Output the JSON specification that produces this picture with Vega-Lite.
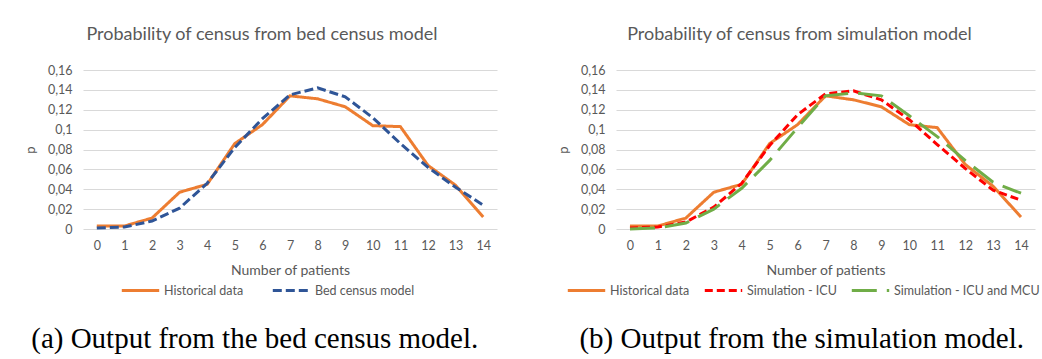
{
  "$schema": "https://vega.github.io/schema/vega-lite/v6.json",
  "padding": {"left": 24, "top": 26, "right": 0, "bottom": 0},
  "background": "white",
  "spacing": 60,
  "resolve": {"scale": {"color": "independent", "strokeDash": "independent", "x": "independent", "y": "independent"}, "legend": {"color": "independent", "strokeDash": "independent"}},
  "datasets": {
    "a": [
      {"series": "Historical data", "n": 0, "p": 0.003},
      {"series": "Historical data", "n": 1, "p": 0.003},
      {"series": "Historical data", "n": 2, "p": 0.011},
      {"series": "Historical data", "n": 3, "p": 0.037},
      {"series": "Historical data", "n": 4, "p": 0.045},
      {"series": "Historical data", "n": 5, "p": 0.086},
      {"series": "Historical data", "n": 6, "p": 0.105},
      {"series": "Historical data", "n": 7, "p": 0.134},
      {"series": "Historical data", "n": 8, "p": 0.131},
      {"series": "Historical data", "n": 9, "p": 0.123},
      {"series": "Historical data", "n": 10, "p": 0.104},
      {"series": "Historical data", "n": 11, "p": 0.103},
      {"series": "Historical data", "n": 12, "p": 0.064},
      {"series": "Historical data", "n": 13, "p": 0.044},
      {"series": "Historical data", "n": 14, "p": 0.012},
      {"series": "Bed census model", "n": 0, "p": 0.001},
      {"series": "Bed census model", "n": 1, "p": 0.002},
      {"series": "Bed census model", "n": 2, "p": 0.008},
      {"series": "Bed census model", "n": 3, "p": 0.021},
      {"series": "Bed census model", "n": 4, "p": 0.046},
      {"series": "Bed census model", "n": 5, "p": 0.082},
      {"series": "Bed census model", "n": 6, "p": 0.111},
      {"series": "Bed census model", "n": 7, "p": 0.135},
      {"series": "Bed census model", "n": 8, "p": 0.142},
      {"series": "Bed census model", "n": 9, "p": 0.133},
      {"series": "Bed census model", "n": 10, "p": 0.112},
      {"series": "Bed census model", "n": 11, "p": 0.086},
      {"series": "Bed census model", "n": 12, "p": 0.062},
      {"series": "Bed census model", "n": 13, "p": 0.042},
      {"series": "Bed census model", "n": 14, "p": 0.024}
    ],
    "b": [
      {"series": "Historical data", "n": 0, "p": 0.003},
      {"series": "Historical data", "n": 1, "p": 0.003},
      {"series": "Historical data", "n": 2, "p": 0.011},
      {"series": "Historical data", "n": 3, "p": 0.037},
      {"series": "Historical data", "n": 4, "p": 0.045},
      {"series": "Historical data", "n": 5, "p": 0.086},
      {"series": "Historical data", "n": 6, "p": 0.105},
      {"series": "Historical data", "n": 7, "p": 0.134},
      {"series": "Historical data", "n": 8, "p": 0.130},
      {"series": "Historical data", "n": 9, "p": 0.123},
      {"series": "Historical data", "n": 10, "p": 0.105},
      {"series": "Historical data", "n": 11, "p": 0.102},
      {"series": "Historical data", "n": 12, "p": 0.065},
      {"series": "Historical data", "n": 13, "p": 0.043},
      {"series": "Historical data", "n": 14, "p": 0.012},
      {"series": "Simulation - ICU", "n": 0, "p": 0.001},
      {"series": "Simulation - ICU", "n": 1, "p": 0.002},
      {"series": "Simulation - ICU", "n": 2, "p": 0.007},
      {"series": "Simulation - ICU", "n": 3, "p": 0.022},
      {"series": "Simulation - ICU", "n": 4, "p": 0.046},
      {"series": "Simulation - ICU", "n": 5, "p": 0.084},
      {"series": "Simulation - ICU", "n": 6, "p": 0.115},
      {"series": "Simulation - ICU", "n": 7, "p": 0.136},
      {"series": "Simulation - ICU", "n": 8, "p": 0.139},
      {"series": "Simulation - ICU", "n": 9, "p": 0.130},
      {"series": "Simulation - ICU", "n": 10, "p": 0.110},
      {"series": "Simulation - ICU", "n": 11, "p": 0.085},
      {"series": "Simulation - ICU", "n": 12, "p": 0.061},
      {"series": "Simulation - ICU", "n": 13, "p": 0.039},
      {"series": "Simulation - ICU", "n": 14, "p": 0.029},
      {"series": "Simulation - ICU and MCU", "n": 0, "p": 0.000},
      {"series": "Simulation - ICU and MCU", "n": 1, "p": 0.001},
      {"series": "Simulation - ICU and MCU", "n": 2, "p": 0.006},
      {"series": "Simulation - ICU and MCU", "n": 3, "p": 0.020},
      {"series": "Simulation - ICU and MCU", "n": 4, "p": 0.041},
      {"series": "Simulation - ICU and MCU", "n": 5, "p": 0.069},
      {"series": "Simulation - ICU and MCU", "n": 6, "p": 0.102},
      {"series": "Simulation - ICU and MCU", "n": 7, "p": 0.134},
      {"series": "Simulation - ICU and MCU", "n": 8, "p": 0.137},
      {"series": "Simulation - ICU and MCU", "n": 9, "p": 0.134},
      {"series": "Simulation - ICU and MCU", "n": 10, "p": 0.114},
      {"series": "Simulation - ICU and MCU", "n": 11, "p": 0.093},
      {"series": "Simulation - ICU and MCU", "n": 12, "p": 0.069},
      {"series": "Simulation - ICU and MCU", "n": 13, "p": 0.047},
      {"series": "Simulation - ICU and MCU", "n": 14, "p": 0.036}
    ]
  },
  "hconcat": [
    {
      "title": {"text": "(a) Output from the bed census model.", "orient": "bottom", "anchor": "middle", "offset": 28, "dx": -6, "font": "Liberation Serif", "fontSize": 29, "color": "#000000"},
      "resolve": {"scale": {"color": "independent", "strokeDash": "independent"}, "legend": {"color": "independent", "strokeDash": "independent"}},
      "vconcat": [
        {
          "title": {"text": "Probability of census from bed census model", "dx": -28},
          "width": 414,
          "height": 159,
          "data": {"name": "a"},
          "mark": {"type": "line", "strokeWidth": 3},
          "encoding": {
            "x": {"field": "n", "type": "ordinal", "sort": "ascending", "title": "Number of patients", "scale": {"type": "point", "padding": 0.5}},
            "y": {"field": "p", "type": "quantitative", "title": "p", "scale": {"domain": [0, 0.16]}, "axis": {"values": [0, 0.02, 0.04, 0.06, 0.08, 0.1, 0.12, 0.14, 0.16]}},
            "color": {"field": "series", "type": "nominal", "title": null, "scale": {"domain": ["Historical data", "Bed census model"], "range": ["#ED7D31", "#2F5597"]}, "legend": {"orient": "none", "legendX": 37, "legendY": 200, "columnPadding": 22}},
            "strokeDash": {"field": "series", "type": "nominal", "title": null, "scale": {"domain": ["Historical data", "Bed census model"], "range": [[1, 0], [9, 4]]}}
          }
        }
      ]
    },
    {
      "title": {"text": "(b) Output from the simulation model.", "orient": "bottom", "anchor": "middle", "offset": 28, "dx": 3, "font": "Liberation Serif", "fontSize": 29, "color": "#000000"},
      "resolve": {"scale": {"color": "independent", "strokeDash": "independent"}, "legend": {"color": "independent", "strokeDash": "independent"}},
      "vconcat": [
        {
          "title": {"text": "Probability of census from simulation model", "dx": -26},
          "width": 419,
          "height": 159,
          "data": {"name": "b"},
          "mark": {"type": "line", "strokeWidth": 3},
          "encoding": {
            "x": {"field": "n", "type": "ordinal", "sort": "ascending", "title": "Number of patients", "scale": {"type": "point", "padding": 0.5}},
            "y": {"field": "p", "type": "quantitative", "title": "p", "scale": {"domain": [0, 0.16]}, "axis": {"values": [0, 0.02, 0.04, 0.06, 0.08, 0.1, 0.12, 0.14, 0.16]}},
            "color": {"field": "series", "type": "nominal", "title": null, "scale": {"domain": ["Historical data", "Simulation - ICU", "Simulation - ICU and MCU"], "range": ["#ED7D31", "#FF0000", "#70AD47"]}, "legend": {"orient": "none", "legendX": -50, "legendY": 200, "columnPadding": 8}},
            "strokeDash": {"field": "series", "type": "nominal", "title": null, "scale": {"domain": ["Historical data", "Simulation - ICU", "Simulation - ICU and MCU"], "range": [[1, 0], [8, 4], [25, 10]]}}
          }
        }
      ]
    }
  ],
  "config": {
    "view": {"stroke": null},
    "font": "Lato",
    "title": {"font": "Lato", "fontSize": 18, "fontWeight": "normal", "color": "#595959", "offset": 20},
    "axisY": {
      "labelExpr": "replace(toString(datum.value), '.', ',')",
      "domain": false, "ticks": false,
      "gridColor": "#D9D9D9", "gridWidth": 1,
      "labelColor": "#595959", "labelFontSize": 12.5, "labelPadding": 11,
      "titleColor": "#595959", "titleFontSize": 13, "titleFontWeight": "normal", "titlePadding": 10
    },
    "axisX": {
      "labelAngle": 0, "grid": false, "ticks": false, "domain": false,
      "labelColor": "#595959", "labelFontSize": 12.5, "labelPadding": 10,
      "titleColor": "#595959", "titleFontSize": 14, "titleFontWeight": "normal", "titlePadding": 12
    },
    "legend": {
      "direction": "horizontal", "symbolType": "stroke",
      "symbolSize": 1400, "symbolStrokeWidth": 3, "labelFontSize": 12.5, "labelColor": "#595959",
      "labelOffset": 3, "labelLimit": 300
    },
    "concat": {"spacing": 60}
  }
}
